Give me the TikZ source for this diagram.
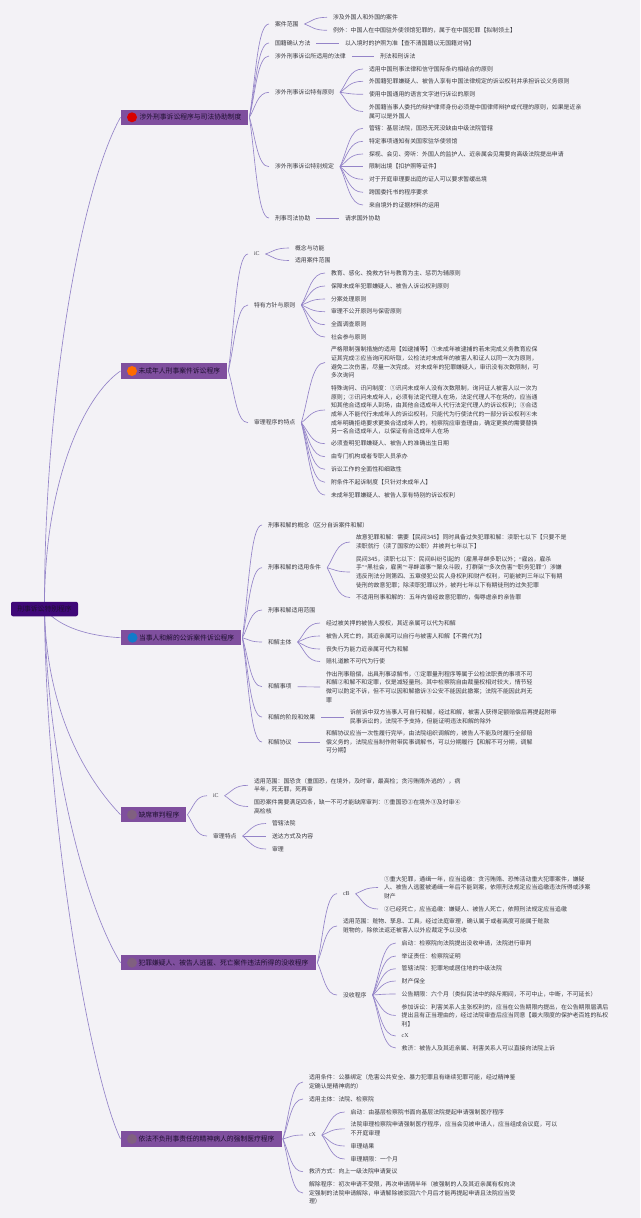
\documentclass[tikz,border=0pt]{standalone}
\usepackage{fontspec}
\setmainfont{Noto Sans CJK SC}
\newfontfamily\latinserif{Liberation Serif}
\usetikzlibrary{calc}
\definecolor{bgc}{HTML}{F3F2F6}
\definecolor{linec}{HTML}{9484C8}
\definecolor{boxc}{HTML}{7F4F9E}
\definecolor{rootc}{HTML}{3F0878}
\definecolor{txt}{HTML}{3A3A40}
\definecolor{hdtxt}{HTML}{1E1030}
\tikzset{
  leaf/.style={anchor=west,inner sep=0pt,outer sep=0pt,align=left,text=txt,font=\fontsize{5.9}{8.7}\selectfont},
  head/.style={leaf,text=hdtxt,font=\fontsize{6.8}{8}\selectfont},
  major/.style={rectangle,fill=boxc,minimum height=15.5pt,anchor=west,inner xsep=0pt,inner ysep=0pt},
  rootbox/.style={rectangle,rounded corners=2pt,fill=rootc,minimum width=67pt,minimum height=14.5pt,inner sep=0pt,text=hdtxt,font=\fontsize{6.8}{8}\selectfont},
  conn/.style={draw=linec,line width=0.65pt},
  badge/.style={circle,inner sep=0pt,minimum size=10pt}
}
\newcommand\qa{{\latinserif “}}
\newcommand\qb{{\latinserif ”}}
% curved connector, parent end shifted #1, child end shifted -6
\newcommand\curve[3]{\draw[conn] let \p1=($(#2.east)+(#1,0)$), \p2=($(#3.west)+(-6,0)$) in
  (\p1) .. controls ({\x1+0.32*(\x2-\x1)},{\y1+0.42*(\y2-\y1)}) and ({\x1+0.42*(\x2-\x1)},\y2) .. (\p2);}
\newcommand\cv[2]{\curve{6}{#1}{#2}}
\newcommand\cb[2]{\curve{1}{#1}{#2}}
\newcommand\straight[2]{\draw[conn] ($(#1.east)+(6,0)$) -- ($(#2.west)+(-6,0)$);}
\newcommand\leafnode[4]{\node[leaf] (#1) at (#2,#3) {#4};}
\begin{document}
\begin{tikzpicture}[x=1pt,y=-1pt]
\useasboundingbox (0,0) rectangle (640,1218);
\fill[bgc] (0,0) rectangle (640,1218);

% major boxes
\coordinate (rootc) at (44.5,609);
\node[major,minimum width=127.5pt] (n1) at (120.5,117.3) {};
\node[major,minimum width=106.5pt] (n2) at (120.5,371) {};
\node[major,minimum width=120.5pt] (n3) at (120.5,637.7) {};
\node[major,minimum width=65.5pt] (n4) at (120.5,814.7) {};
\node[major,minimum width=195.5pt] (n5) at (120.5,962.7) {};
\node[major,minimum width=161pt] (n6) at (120.5,1139) {};
\node[badge,fill=red!85!black] (b1) at (132,117.3) {};
\node[badge,fill=orange!85!red] (b2) at (132,371) {};
\node[badge,fill=cyan!60!blue] (b3) at (132.5,637.7) {};
\node[badge,fill=gray!75!violet] (b4) at (132,814.7) {};
\node[badge,fill=gray!75!violet] (b5) at (132,962.7) {};
\node[badge,fill=gray!75!violet] (b6) at (132,1139) {};
\node[head] (t1) at (139.5,117.3) {涉外刑事诉讼程序与司法协助制度};
\node[head] (t2) at (138.5,371) {未成年人刑事案件诉讼程序};
\node[head] (t3) at (139,637.7) {当事人和解的公诉案件诉讼程序};
\node[head] (t4) at (138.5,814.7) {缺席审判程序};
\node[head] (t5) at (138.5,962.7) {犯罪嫌疑人、被告人逃匿、死亡案件违法所得的没收程序};
\node[head] (t6) at (138.5,1139) {依法不负刑事责任的精神病人的强制医疗程序};

% root connectors
\draw[conn] (rootc) .. controls (44,400) and (80,190) .. (n1.west);
\draw[conn] (rootc) .. controls (44,480) and (85,395) .. (n2.west);
\draw[conn] (rootc) .. controls (60,628) and (90,636) .. (n3.west);
\draw[conn] (rootc) .. controls (46,700) and (78,770) .. (n4.west);
\draw[conn] (rootc) .. controls (47,760) and (85,905) .. (n5.west);
\draw[conn] (rootc) .. controls (46,820) and (90,1075) .. (n6.west);
\node[rootbox] (root) at (rootc) {刑事诉讼特别程序};

% ---------- 1
\leafnode{a1}{275}{24}{案件范围}
\leafnode{a11}{333}{17.3}{涉及外国人和外国的案件}
\leafnode{a12}{333}{30.3}{例外：中国人在中国驻外使领馆犯罪的，属于在中国犯罪【拟制领土】}
\leafnode{a2}{275}{43}{国籍确认方法}
\leafnode{a21}{345}{43}{以入境时的护照为准【查不清国籍以无国籍对待】}
\leafnode{a3}{275}{56}{涉外刑事诉讼所适用的法律}
\leafnode{a31}{380}{56}{刑法和刑诉法}
\leafnode{a4}{275}{92.3}{涉外刑事诉讼特有原则}
\leafnode{a41}{369}{69}{适用中国刑事法律和信守国际条约相结合的原则}
\leafnode{a42}{369}{81.3}{外国籍犯罪嫌疑人、被告人享有中国法律规定的诉讼权利并承担诉讼义务原则}
\leafnode{a43}{369}{94.3}{使用中国通用的语言文字进行诉讼的原则}
\leafnode{a44}{369}{111.5}{外国籍当事人委托的辩护律师身份必须是中国律师辩护或代理的原则，如果是近亲\\属可以是外国人}
\leafnode{a5}{275}{166.7}{涉外刑事诉讼特别规定}
\leafnode{a51}{369}{128.3}{管辖：基层法院，国恐无死没缺由中级法院管辖}
\leafnode{a52}{369}{141.3}{特定事项通知有关国家驻华使领馆}
\leafnode{a53}{369}{154}{探视、会见、旁听：外国人的监护人、近亲属会见需要向高级法院提出申请}
\leafnode{a54}{369}{166.7}{限制出境【扣护照等证件】}
\leafnode{a55}{369}{179.3}{对于开庭审理要出庭的证人可以要求暂缓出境}
\leafnode{a56}{369}{192.3}{跨国委托书的程序要求}
\leafnode{a57}{369}{205}{来自境外的证据材料的运用}
\leafnode{a6}{275}{218}{刑事司法协助}
\leafnode{a61}{345}{218}{请求国外协助}
\foreach \k in {a1,a2,a3,a4,a5,a6} {\cb{n1}{\k}}
\cv{a1}{a11}\cv{a1}{a12}
\straight{a2}{a21}\straight{a3}{a31}\straight{a6}{a61}
\foreach \k in {a41,a42,a43,a44} {\cv{a4}{\k}}
\foreach \k in {a51,a52,a53,a54,a55,a56,a57} {\cv{a5}{\k}}

% ---------- 2
\node[leaf,font=\fontsize{5.9}{8.7}\latinserif] (b1c) at (254,254) {iC};
\leafnode{b11}{295}{248}{概念与功能}
\leafnode{b12}{295}{260.5}{适用案件范围}
\leafnode{b2c}{254}{305}{特有方针与原则}
\leafnode{b21}{331}{273}{教育、感化、挽救方针与教育为主、惩罚为辅原则}
\leafnode{b22}{331}{286}{保障未成年犯罪嫌疑人、被告人诉讼权利原则}
\leafnode{b23}{331}{299}{分案处理原则}
\leafnode{b24}{331}{311.7}{审理不公开原则与保密原则}
\leafnode{b25}{331}{324.7}{全面调查原则}
\leafnode{b26}{331}{337}{社会参与原则}
\leafnode{b3c}{254}{422.7}{审理程序的特点}
\leafnode{b31}{331}{362.5}{严格限制强制措施的适用【如逮捕等】①未成年被逮捕的若未完成义务教育应保\\证其完成②应当询问和听取，公检法对未成年的被害人和证人以同一次为原则，\\避免二次伤害，尽量一次完成。 对未成年的犯罪嫌疑人，审讯没有次数限制，可\\多次询问}
\leafnode{b32}{331}{410}{特殊询问、讯问制度：①讯问未成年人没有次数限制，询问证人被害人以一次为\\原则；②讯问未成年人，必须有法定代理人在场，法定代理人不在场的，应当通\\知其他合适成年人到场，由其他合适成年人代行法定代理人的诉讼权利；③合适\\成年人不能代行未成年人的诉讼权利，只能代为行使法代的一部分诉讼权利④未\\成年明确拒绝要求更换合适成年人的，检察院应审查理由，确定更换的需要替换\\另一名合适成年人，以保证有合适成年人在场}
\leafnode{b33}{331}{443.7}{必须查明犯罪嫌疑人、被告人的准确出生日期}
\leafnode{b34}{331}{456.7}{由专门机构或者专职人员承办}
\leafnode{b35}{331}{469.3}{诉讼工作的全面性和细致性}
\leafnode{b36}{331}{482.3}{附条件不起诉制度【只针对未成年人】}
\leafnode{b37}{331}{495}{未成年犯罪嫌疑人、被告人享有特别的诉讼权利}
\foreach \k in {b1c,b2c,b3c} {\cb{n2}{\k}}
\cv{b1c}{b11}\cv{b1c}{b12}
\foreach \k in {b21,b22,b23,b24,b25,b26} {\cv{b2c}{\k}}
\foreach \k in {b31,b32,b33,b34,b35,b36,b37} {\cv{b3c}{\k}}

% ---------- 3
\leafnode{c1}{268}{525}{刑事和解的概念（区分自诉案件和解）}
\leafnode{c2}{268}{567.7}{刑事和解的适用条件}
\leafnode{c21}{356}{542}{故意犯罪和解：需要【民间345】同时具备过失犯罪和解：渎职七以下【只要不是\\渎职就行（渎了国家的公职）并被判七年以下】}
\leafnode{c22}{356}{572}{民间345，渎职七以下：民间纠纷引起的（雇黑寻衅多职以外；\qa{}雇凶，雇杀\\手\qb\qa{}黑社会，雇黑\qb\qa{}寻衅滋事\qb\qa{}聚众斗殴，打群架\qb\qa{}多次伤害\qb\qa{}职务犯罪\qb{}）涉嫌\\违反刑法分则第四、五章侵犯公民人身权利和财产权利，可能被判三年以下有期\\徒刑的故意犯罪；除渎职犯罪以外，被判七年以下有期徒刑的过失犯罪}
\leafnode{c23}{356}{597.5}{不适用刑事和解的：五年内曾经故意犯罪的，侮辱虐亲的亲告罪}
\leafnode{c3}{268}{610}{刑事和解适用范围}
\leafnode{c4}{268}{642}{和解主体}
\leafnode{c41}{326}{623}{经过被关押的被告人授权，其近亲属可以代为和解}
\leafnode{c42}{326}{636}{被告人死亡的，其近亲属可以自行与被害人和解【不需代为】}
\leafnode{c43}{326}{649}{丧失行为能力近亲属可代为和解}
\leafnode{c44}{326}{661.5}{赔礼道歉不可代为行使}
\leafnode{c5}{268}{686.7}{和解事项}
\leafnode{c51}{326}{687}{作出刑事赔偿，出具刑事谅解书，①定罪量刑程序等属于公检法职责的事项不可\\和解②和解不和定罪，仅是减轻量刑。其中检察院自由裁量权相对较大，情节轻\\微可以酌定不诉，但不可以因和解撤诉③公安不能因此撤案；法院不能因此判无\\罪}
\leafnode{c6}{268}{717}{和解的阶段和效果}
\leafnode{c61}{350}{717}{诉前诉中双方当事人可自行和解，经过和解，被害人获得足额赔偿后再提起附带\\民事诉讼的，法院不予支持，但能证明违法和解的除外}
\leafnode{c7}{268}{742}{和解协议}
\leafnode{c71}{326}{742}{和解协议应当一次性履行完毕，由法院组织调解的，被告人不能及时履行全部赔\\偿义务的，法院应当制作附带民事调解书，可以分期履行【和解不可分期，调解\\可分期】}
\foreach \k in {c1,c2,c3,c4,c5,c6,c7} {\cb{n3}{\k}}
\foreach \k in {c21,c22,c23} {\cv{c2}{\k}}
\foreach \k in {c41,c42,c43,c44} {\cv{c4}{\k}}
\straight{c5}{c51}\straight{c6}{c61}\straight{c7}{c71}

% ---------- 4
\node[leaf,font=\fontsize{5.9}{8.7}\latinserif] (d1) at (213,795.7) {iC};
\leafnode{d11}{254}{785.3}{适用范围：国恐贪（重国恐，在境外，及时审，最高检；贪污贿赂外逃的），病\\半年，死无罪，死再审}
\leafnode{d12}{254}{806.5}{国恐案件需要满足四条，缺一不可才能缺席审判：①重国恐②在境外③及时审④\\高检核}
\leafnode{d2}{213}{836}{审理特点}
\leafnode{d21}{272}{823.5}{管辖法院}
\leafnode{d22}{272}{836}{送达方式及内容}
\leafnode{d23}{272}{849}{审理}
\cb{n4}{d1}\cb{n4}{d2}
\cv{d1}{d11}\cv{d1}{d12}
\foreach \k in {d21,d22,d23} {\cv{d2}{\k}}

% ---------- 5
\node[leaf,font=\fontsize{5.9}{8.7}\latinserif] (e1) at (343,893.7) {cB};
\leafnode{e11}{384}{887.5}{①重大犯罪，通缉一年，应当追缴：贪污贿赂、恐怖活动重大犯罪案件，嫌疑\\人、被告人逃匿被通缉一年后不能到案，依照刑法规定应当追缴违法所得或涉案\\财产}
\leafnode{e12}{384}{909}{②已经死亡，应当追缴：嫌疑人、被告人死亡，依照刑法规定应当追缴}
\leafnode{e2}{343}{926}{适用范围：赃物、孳息、工具，经过法庭审理，确认属于或者高度可能属于赃款\\赃物的，除依法返还被害人以外应裁定予以没收}
\leafnode{e3}{343}{995}{没收程序}
\leafnode{e31}{401.7}{943}{启动：检察院向法院提出没收申请，法院进行审判}
\leafnode{e32}{401.7}{956}{举证责任：检察院证明}
\leafnode{e33}{401.7}{968.7}{管辖法院：犯罪地或居住地的中级法院}
\leafnode{e34}{401.7}{981}{财产保全}
\leafnode{e35}{401.7}{994}{公告期限：六个月（类似民法中的除斥期间，不可中止，中断，不可延长）}
\leafnode{e36}{401.7}{1015.5}{参加诉讼：利害关系人主张权利的，应当在公告期限内提出，在公告期限届满后\\提出且有正当理由的，经过法院审查后应当同意【最大限度的保护老百姓的私权\\利】}
\node[leaf,font=\fontsize{5.9}{8.7}\latinserif] (e37) at (401.7,1036) {cX};
\leafnode{e38}{401.7}{1048}{救济：被告人及其近亲属、利害关系人可以直接向法院上诉}
\foreach \k in {e1,e2,e3} {\cb{n5}{\k}}
\cv{e1}{e11}\cv{e1}{e12}
\foreach \k in {e31,e32,e33,e34,e35,e36,e37,e38} {\cv{e3}{\k}}

% ---------- 6
\leafnode{f1}{309}{1082}{适用条件：公暴绑定（危害公共安全、暴力犯罪且有继续犯罪可能，经过精神鉴\\定确认是精神病的）}
\leafnode{f2}{309}{1099}{适用主体：法院、检察院}
\node[leaf,font=\fontsize{5.9}{8.7}\latinserif] (f3) at (309,1135) {cX};
\leafnode{f31}{350.7}{1112}{启动：由基层检察院书面向基层法院提起申请强制医疗程序}
\leafnode{f32}{350.7}{1128.8}{法院审理检察院申请强制医疗程序，应当会见被申请人，应当组成合议庭，可以\\不开庭审理}
\leafnode{f33}{350.7}{1146}{审理结果}
\leafnode{f34}{350.7}{1159}{审理期限：一个月}
\leafnode{f4}{309}{1171.7}{救济方式：向上一级法院申请复议}
\leafnode{f5}{309}{1193}{解除程序：初次申请不受限，再次申请隔半年（被强制的人及其近亲属有权向决\\定强制的法院申请解除，申请解除被驳回六个月后才能再提起申请且法院应当受\\理）}
\foreach \k in {f1,f2,f3,f4,f5} {\cb{n6}{\k}}
\foreach \k in {f31,f32,f33,f34} {\cv{f3}{\k}}
\end{tikzpicture}
\end{document}
